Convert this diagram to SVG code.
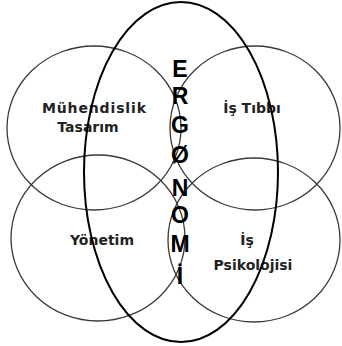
<svg xmlns="http://www.w3.org/2000/svg" width="342" height="346" viewBox="0 0 342 346">
<style>
.c{fill:none;stroke:#3a3a3a;stroke-width:1.3}
.e{fill:none;stroke:#000;stroke-width:2}
.t{font-family:"DejaVu Sans",Verdana,sans-serif;font-weight:bold;font-size:14px;fill:#222;text-anchor:middle}
.l{font-family:"Liberation Sans",Arial,sans-serif;font-weight:bold;font-size:23px;fill:#000;text-anchor:middle}
</style>
<rect width="342" height="346" fill="#fff"/>
<g id="connectors"></g>
<g id="muhendislik"><ellipse class="c" cx="94" cy="128" rx="87" ry="82"/>
<text class="t" x="94" y="113" textLength="104">Mühendislik</text>
<text class="t" x="88" y="132">Tasarım</text></g>
<g id="istibbi"><ellipse class="c" cx="255" cy="128" rx="85" ry="82"/>
<text class="t" x="252" y="113">İş Tıbbı</text></g>
<g id="yonetim"><ellipse class="c" cx="98" cy="238" rx="87" ry="83"/>
<text class="t" x="102" y="245">Yönetim</text></g>
<g id="ispsikolojisi"><ellipse class="c" cx="254" cy="240" rx="86" ry="82"/>
<text class="t" x="247" y="245">İş</text>
<text class="t" x="253" y="270">Psikolojisi</text></g>
<g id="ergonomi"><ellipse class="e" cx="181" cy="172" rx="97" ry="170"/>
<text class="l" x="180" y="77">E</text>
<text class="l" x="180" y="104">R</text>
<text class="l" x="180" y="133">G</text>
<text class="l" x="180" y="163">Ø</text>
<text class="l" x="180" y="196">N</text>
<text class="l" x="180" y="223">O</text>
<text class="l" x="180" y="252">M</text>
<text class="l" x="180" y="284">İ</text></g>
</svg>
